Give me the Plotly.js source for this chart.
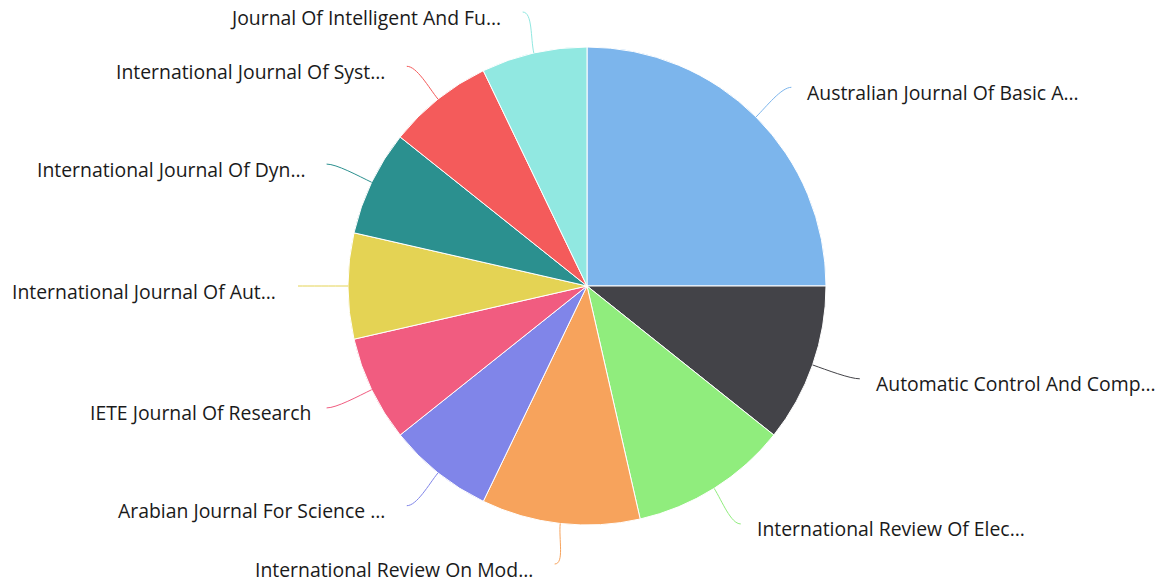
<!DOCTYPE html>
<html><head><meta charset="utf-8">
<script src="https://cdn.plot.ly/plotly-3.0.1.min.js"></script>
<style>html,body{margin:0;padding:0;background:#fff}#chart{width:1157px;height:585px}</style>
</head><body><div id="chart"></div>
<script>
const labels = [
  "Australian Journal Of Basic A…",
  "Automatic Control And Comp…",
  "International Review Of Elec…",
  "International Review On Mod…",
  "Arabian Journal For Science …",
  "IETE Journal Of Research",
  "International Journal Of Aut…",
  "International Journal Of Dyn…",
  "International Journal Of Syst…",
  "Journal Of Intelligent And Fu…"
];
const values = [7, 3, 3, 3, 2, 2, 2, 2, 2, 2];
const colors = ['#7cb5ec','#434348','#90ed7d','#f7a35c','#8085e9','#f15c80','#e4d354','#2b908f','#f45b5b','#91e8e1'];

const W = 1157, H = 585, CX = 587, CY = 286, R = 239;
const LX_R = 289, LY_R = 281;
const px = x => x / W, py = y => 1 - y / H;
const total = values.reduce((a, b) => a + b, 0);
let acc = 0;
const shapes = [], annotations = [];
values.forEach((v, i) => {
  const mid = (acc + v / 2) / total * 2 * Math.PI; acc += v;
  const s = Math.sin(mid), c = Math.cos(mid);
  const right = s >= 0;
  const E = [CX + R * s, CY - R * c];
  const C1 = [CX + (R + 15) * s, CY - (R + 15) * c];
  const ly = Math.min(Math.max(CY - LY_R * c, 12), 564);
  const L = [CX + LX_R * s, ly];
  const C2 = [L[0] + (right ? -10 : 10), L[1]];
  const path = `M${px(E[0])},${py(E[1])} C${px(C1[0])},${py(C1[1])} ${px(C2[0])},${py(C2[1])} ${px(L[0])},${py(L[1])}`;
  shapes.push({type: 'path', xref: 'paper', yref: 'paper', path, line: {color: colors[i], width: 1}});
  const gap = right ? 14 : (labels[i].endsWith('…') ? -20 : -14);
  annotations.push({
    xref: 'paper', yref: 'paper',
    x: px(L[0] + gap), y: py(L[1] + 5),
    xanchor: right ? 'left' : 'right', yanchor: 'middle',
    text: labels[i], showarrow: false,
    font: {family: 'Open Sans, sans-serif', size: 19.4, color: '#1a1a1a'}
  });
});

const trace = {
  type: 'pie', labels, values, sort: false, direction: 'clockwise', rotation: 0,
  marker: {colors, line: {color: '#ffffff', width: 1}},
  textinfo: 'none', hoverinfo: 'label+value', showlegend: false,
  domain: {x: [px(CX - R), px(CX + R)], y: [py(CY + R), py(CY - R)]}
};
const layout = {
  width: W, height: H, margin: {l: 0, r: 0, t: 0, b: 0},
  paper_bgcolor: '#ffffff', plot_bgcolor: '#ffffff',
  shapes, annotations, showlegend: false
};
Plotly.newPlot('chart', [trace], layout, {displayModeBar: false, staticPlot: true});
</script>
</body></html>
